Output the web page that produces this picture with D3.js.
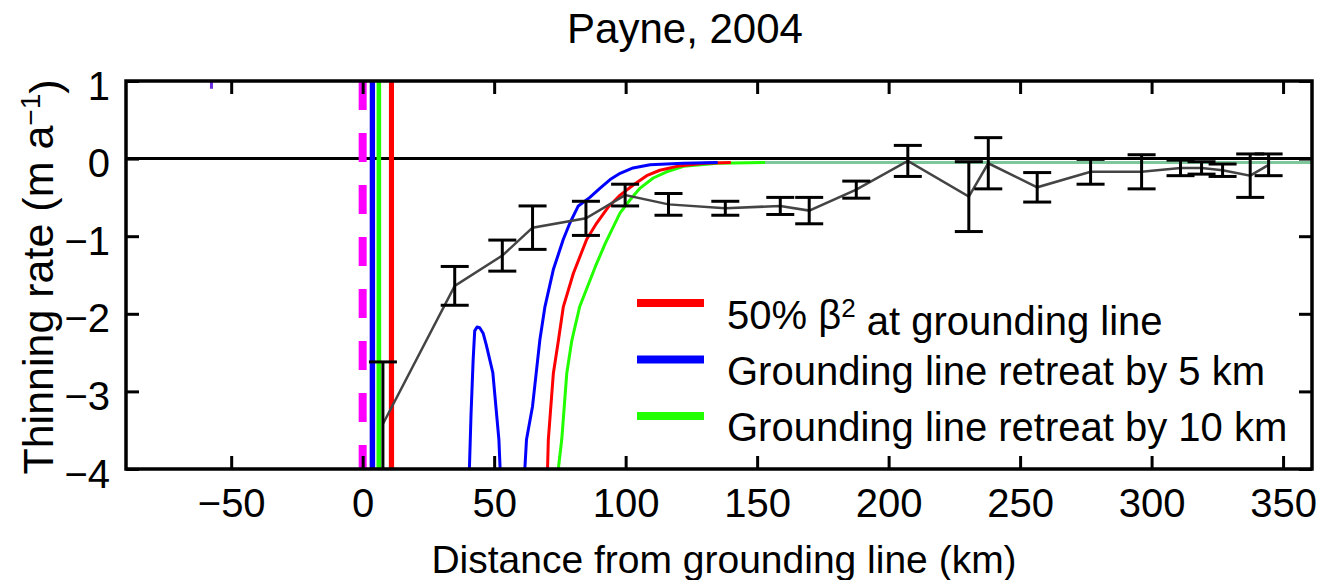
<!DOCTYPE html>
<html>
<head>
<meta charset="utf-8">
<script src="https://cdn.jsdelivr.net/npm/d3@7"></script>
<style>
  body { margin: 0; background: #fff; }
  svg text { font-family: Arial, 'Liberation Sans', Helvetica, sans-serif; fill: #000; }
</style>
</head>
<body>
<svg width="1322" height="580"></svg>
<script>
// observed thinning rate, mean and error (m/a) vs distance (km)
var obsX = [7.7, 35.0, 53.1, 64.6, 84.9, 99.8, 116.3, 137.9, 158.8, 169.8, 187.7, 207.3, 230.5, 237.9, 256.5, 276.8, 296.2, 311, 319, 327, 337.5, 344.5];
var obsY = [-3.42, -1.64, -1.25, -0.89, -0.77, -0.47, -0.59, -0.64, -0.61, -0.67, -0.40, -0.03, -0.49, -0.06, -0.37, -0.17, -0.17, -0.12, -0.12, -0.15, -0.22, -0.08];
var obsErr = [0.80, 0.25, 0.20, 0.28, 0.22, 0.14, 0.14, 0.09, 0.11, 0.17, 0.11, 0.20, 0.45, 0.33, 0.19, 0.16, 0.22, 0.10, 0.08, 0.08, 0.28, 0.14];

// model runs (the spike at the grounding line runs far off the axes)
var redX = [10.5, 10.6, 11.3, 11.4, 69.5, 70.6, 72.5, 74.4, 76.3, 80.1, 85.2, 89.0, 93.5, 97.9, 102.9, 108, 113, 119.5, 130, 140];
var redY = [-8, 8, 8, -8, -5, -3.62, -2.77, -2.35, -1.91, -1.48, -1.04, -0.83, -0.62, -0.47, -0.34, -0.22, -0.15, -0.10, -0.06, -0.05];

var blueX = [3.2, 3.3, 4.1, 4.2, 39.7, 41.2, 42.0, 42.6, 43.5, 44.5, 45.8, 47.0, 49.5, 51.8, 53.5, 60.0, 62.3, 64.6, 67.4, 69.3, 72.5, 76.3, 78.8, 82.0, 86.4, 90.3, 94.1, 97.9, 102.8, 109.3, 121.9, 135];
var blueY = [-8, 8, 8, -8, -5, -3.3, -2.6, -2.22, -2.17, -2.18, -2.25, -2.4, -2.76, -3.62, -5, -5, -3.62, -3.19, -2.33, -1.91, -1.43, -1.04, -0.83, -0.61, -0.50, -0.38, -0.27, -0.19, -0.12, -0.08, -0.06, -0.05];

var greenX = [5.8, 5.9, 6.4, 6.5, 73.0, 74.4, 75.7, 77.6, 79.5, 82.5, 88.5, 92.3, 95.3, 97.9, 101.7, 105.5, 110.5, 115.6, 122, 135, 153];
var greenY = [-8, 8, 8, -8, -5, -4, -3.62, -2.77, -2.35, -1.91, -1.39, -1.09, -0.88, -0.70, -0.53, -0.38, -0.25, -0.17, -0.10, -0.06, -0.05];

var farX = [150, 361];
var farY = [-0.05, -0.05];

// grounding line position and a stray mark near the top
var gateX = [0, 0];
var gateY = [1, -4];
var strayX = [-57.5, -57.5];
var strayY = [1.02, 0.9];

var xTicks = [-50, 0, 50, 100, 150, 200, 250, 300, 350];
var yTicks = [1, 0, -1, -2, -3, -4];

var legendColors = ['#ff0000', '#0000ff', '#22ff00'];
var legendText = [
  ['50% \u03b2', '2', ' at grounding line'],
  ['Grounding line retreat by 5 km', '', ''],
  ['Grounding line retreat by 10 km', '', '']
];

var svg = d3.select('svg');
var pLeft = 126, pRight = 1312, pTop = 81, pBottom = 469;

var x = d3.scaleLinear().domain([-90, 361]).range([pLeft, pRight]);
var y = d3.scaleLinear().domain([-4, 1]).range([pBottom, pTop]);

svg.append('clipPath').attr('id', 'plot')
  .append('rect')
  .attr('x', pLeft).attr('y', pTop)
  .attr('width', pRight - pLeft).attr('height', pBottom - pTop);

var line = d3.line()
  .x(function(d) { return x(d[0]); })
  .y(function(d) { return y(d[1]); });

var g = svg.append('g').attr('clip-path', 'url(#plot)');

// zero line
g.append('line')
  .attr('x1', pLeft).attr('x2', pRight)
  .attr('y1', y(0)).attr('y2', y(0))
  .attr('stroke', '#000').attr('stroke-width', 3);

g.append('path')
  .attr('d', line(d3.zip(gateX, gateY)))
  .attr('fill', 'none')
  .attr('stroke', '#ff00ff')
  .attr('stroke-width', 8)
  .attr('stroke-dasharray', '29,23');

g.append('path')
  .attr('d', line(d3.zip(strayX, strayY)))
  .attr('stroke', '#6a2ee0')
  .attr('stroke-width', 3);

var series = [
  {xs: farX, ys: farY, color: '#7dc79b'},
  {xs: greenX, ys: greenY, color: '#22ff00'},
  {xs: redX, ys: redY, color: '#ff0000'},
  {xs: blueX, ys: blueY, color: '#0000ff'}
];

series.forEach(function(s) {
  g.append('path')
    .attr('d', line(d3.zip(s.xs, s.ys)))
    .attr('fill', 'none')
    .attr('stroke', s.color)
    .attr('stroke-width', 3)
    .attr('stroke-linejoin', 'round');
});

// observations
g.append('path')
  .attr('d', line(d3.zip(obsX, obsY)))
  .attr('fill', 'none')
  .attr('stroke', '#444')
  .attr('stroke-width', 2.5);

var bars = g.selectAll('.bar')
  .data(d3.range(obsX.length))
  .enter()
  .append('g')
  .attr('class', 'bar')
  .attr('stroke', '#000')
  .attr('stroke-width', 3);

bars.append('line')
  .attr('x1', function(i) { return x(obsX[i]); })
  .attr('x2', function(i) { return x(obsX[i]); })
  .attr('y1', function(i) { return y(obsY[i] + obsErr[i]); })
  .attr('y2', function(i) { return y(obsY[i] - obsErr[i]); });

[1, -1].forEach(function(sign) {
  bars.append('line')
    .attr('x1', function(i) { return x(obsX[i]) - 14; })
    .attr('x2', function(i) { return x(obsX[i]) + 14; })
    .attr('y1', function(i) { return y(obsY[i] + sign * obsErr[i]); })
    .attr('y2', function(i) { return y(obsY[i] + sign * obsErr[i]); });
});

// axes, ticks pointing inward on all four sides
function styleAxis(sel) {
  sel.select('.domain').remove();
  sel.selectAll('.tick line').attr('stroke', '#000').attr('stroke-width', 3);
  sel.selectAll('.tick text').style('font-size', '40px');
}

svg.append('g')
  .attr('transform', 'translate(0,' + pBottom + ')')
  .call(d3.axisBottom(x).tickValues(xTicks).tickFormat(d3.format('d'))
    .tickSizeInner(-13).tickSizeOuter(0).tickPadding(20))
  .call(styleAxis);

svg.append('g')
  .attr('transform', 'translate(0,' + pTop + ')')
  .call(d3.axisTop(x).tickValues(xTicks).tickSizeInner(-13).tickSizeOuter(0).tickFormat(''))
  .call(styleAxis);

svg.append('g')
  .attr('transform', 'translate(' + pLeft + ',0)')
  .call(d3.axisLeft(y).tickValues(yTicks).tickFormat(d3.format('d'))
    .tickSizeInner(-13).tickSizeOuter(0).tickPadding(16))
  .call(styleAxis)
  .selectAll('.tick text').attr('dy', '0.45em');

svg.append('g')
  .attr('transform', 'translate(' + pRight + ',0)')
  .call(d3.axisRight(y).tickValues(yTicks).tickSizeInner(-13).tickSizeOuter(0).tickFormat(''))
  .call(styleAxis);

svg.append('rect')
  .attr('x', pLeft).attr('y', pTop)
  .attr('width', pRight - pLeft).attr('height', pBottom - pTop)
  .attr('fill', 'none')
  .attr('stroke', '#000')
  .attr('stroke-width', 3.5);

// legend
var legend = svg.append('g');
legendText.forEach(function(parts, i) {
  var ly = 303 + i * 56.5;
  legend.append('line')
    .attr('x1', 637).attr('x2', 704)
    .attr('y1', ly).attr('y2', ly)
    .attr('stroke', legendColors[i])
    .attr('stroke-width', 8);
  var t = legend.append('text')
    .attr('x', 727)
    .attr('y', 329 + i * 56)
    .style('font-size', '40px');
  t.append('tspan').text(parts[0]);
  if (parts[1]) {
    t.append('tspan').attr('dy', '-0.45em').style('font-size', '26px').text(parts[1]);
    t.append('tspan').attr('dy', '0.45em').text(parts[2]);
  }
});

// title and axis labels
svg.append('text')
  .attr('x', 685).attr('y', 43)
  .attr('text-anchor', 'middle')
  .style('font-size', '42px')
  .text('Payne, 2004');

svg.append('text')
  .attr('x', 724).attr('y', 573)
  .attr('text-anchor', 'middle')
  .style('font-size', '39px')
  .text('Distance from grounding line (km)');

var ylab = svg.append('text')
  .attr('transform', 'translate(53,277) rotate(-90)')
  .attr('text-anchor', 'middle')
  .style('font-size', '43px');
ylab.append('tspan').text('Thinning rate (m a');
ylab.append('tspan').attr('dy', '-0.45em').style('font-size', '28px').text('\u22121');
ylab.append('tspan').attr('dy', '0.45em').text(')');
</script>
</body>
</html>
